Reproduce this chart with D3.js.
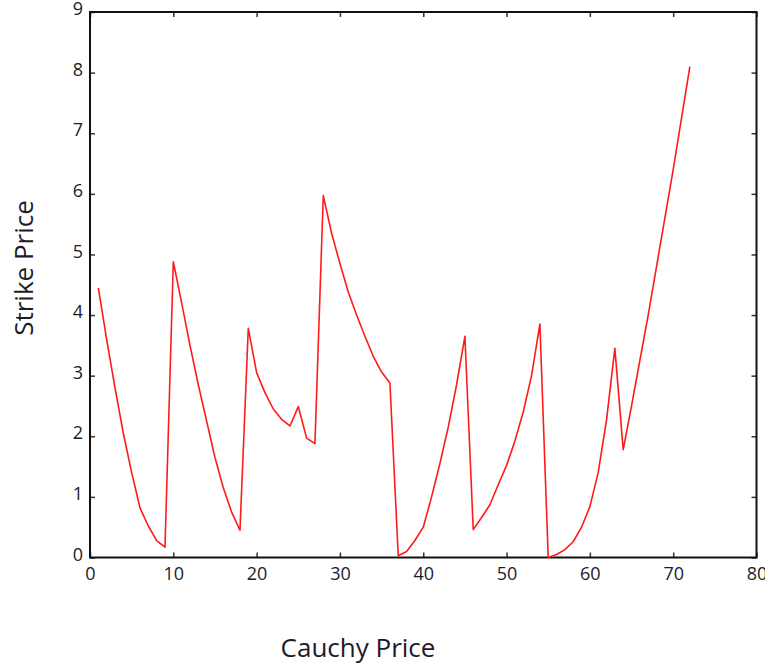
<!DOCTYPE html>
<html>
<head>
<meta charset="utf-8">
<script src="https://cdn.jsdelivr.net/npm/d3@7"></script>
<style>
  body { margin: 0; background: #fff; }
  svg { display: block; }
  .tick text { font-family: "Open Sans", sans-serif; font-size: 18px; fill: #1c1c28; }
  .title { font-family: "Open Sans", sans-serif; font-size: 26px; fill: #1c1c28; }
</style>
</head>
<body>
<svg id="chart" width="765" height="667"></svg>
<script>
// data
var cauchyPrice = [1, 2, 3, 4, 5, 6, 7, 8, 9, 10, 11, 12, 13, 14, 15, 16, 17, 18,
    19, 20, 21, 22, 23, 24, 25, 26, 27, 28, 29, 30, 31, 32, 33, 34, 35, 36,
    37, 38, 39, 40, 41, 42, 43, 44, 45, 46, 47, 48, 49, 50, 51, 52, 53, 54,
    55, 56, 57, 58, 59, 60, 61, 62, 63, 64, 65, 66, 67, 68, 69, 70, 71, 72];
var strikePrice = [4.45, 3.6, 2.8, 2.05, 1.4, 0.82, 0.52, 0.28, 0.17,
    4.88, 4.2, 3.5, 2.85, 2.25, 1.65, 1.15, 0.75, 0.45,
    3.78, 3.05, 2.72, 2.45, 2.28, 2.17, 2.49, 1.97, 1.88,
    5.97, 5.35, 4.85, 4.38, 4.0, 3.65, 3.32, 3.06, 2.88,
    0.03, 0.1, 0.28, 0.5, 1.0, 1.55, 2.15, 2.85, 3.65,
    0.46, 0.66, 0.87, 1.2, 1.52, 1.92, 2.4, 3.0, 3.85,
    0.0, 0.05, 0.13, 0.26, 0.5, 0.84, 1.4, 2.27, 3.45,
    1.78, 2.5, 3.25, 4.0, 4.8, 5.6, 6.4, 7.25, 8.1];
var xTicks = [0, 10, 20, 30, 40, 50, 60, 70, 80];
var yTicks = [0, 1, 2, 3, 4, 5, 6, 7, 8, 9];

var svg = d3.select('#chart');
var plotLeft = 90, plotRight = 756.5, plotTop = 12, plotBottom = 557.5;

var x = d3.scaleLinear().domain([0, 80]).range([plotLeft, plotRight]);
var y = d3.scaleLinear().domain([0, 9]).range([plotBottom, plotTop]);

// axes, ticks pointing inward
svg.append('g')
    .attr('transform', 'translate(0,' + plotBottom + ')')
    .call(d3.axisBottom(x).tickValues(xTicks).tickSizeInner(-5).tickSizeOuter(0).tickPadding(10))
    .call(function (g) { g.select('.domain').remove(); });
svg.append('g')
    .attr('transform', 'translate(0,' + plotTop + ')')
    .call(d3.axisTop(x).tickValues(xTicks).tickSizeInner(-5).tickSizeOuter(0).tickFormat(''))
    .call(function (g) { g.select('.domain').remove(); });
svg.append('g')
    .attr('transform', 'translate(' + plotLeft + ',0)')
    .call(d3.axisLeft(y).tickValues(yTicks).tickSizeInner(-5).tickSizeOuter(0).tickPadding(7))
    .call(function (g) { g.select('.domain').remove(); })
    .selectAll('.tick text').attr('dy', '0.15em');
svg.append('g')
    .attr('transform', 'translate(' + plotRight + ',0)')
    .call(d3.axisRight(y).tickValues(yTicks).tickSizeInner(-5).tickSizeOuter(0).tickFormat(''))
    .call(function (g) { g.select('.domain').remove(); });

svg.selectAll('.tick line').attr('stroke', '#333').attr('stroke-width', 1.5);

// frame
svg.append('rect')
    .attr('x', plotLeft).attr('y', plotTop)
    .attr('width', plotRight - plotLeft).attr('height', plotBottom - plotTop)
    .attr('fill', 'none').attr('stroke', '#111').attr('stroke-width', 2);

// the line
var line = d3.line()
    .x(function (d, i) { return x(cauchyPrice[i]); })
    .y(function (d) { return y(d); });

svg.append('path')
    .datum(strikePrice)
    .attr('d', line)
    .attr('fill', 'none')
    .attr('stroke', '#ff1a1a')
    .attr('stroke-width', 1.6)
    .attr('stroke-linejoin', 'round');

// axis titles
svg.append('text').attr('class', 'title')
    .attr('x', 358).attr('y', 657)
    .attr('text-anchor', 'middle')
    .text('Cauchy Price');
svg.append('text').attr('class', 'title')
    .attr('transform', 'translate(33,268) rotate(-90)')
    .attr('text-anchor', 'middle')
    .text('Strike Price');
</script>
</body>
</html>
